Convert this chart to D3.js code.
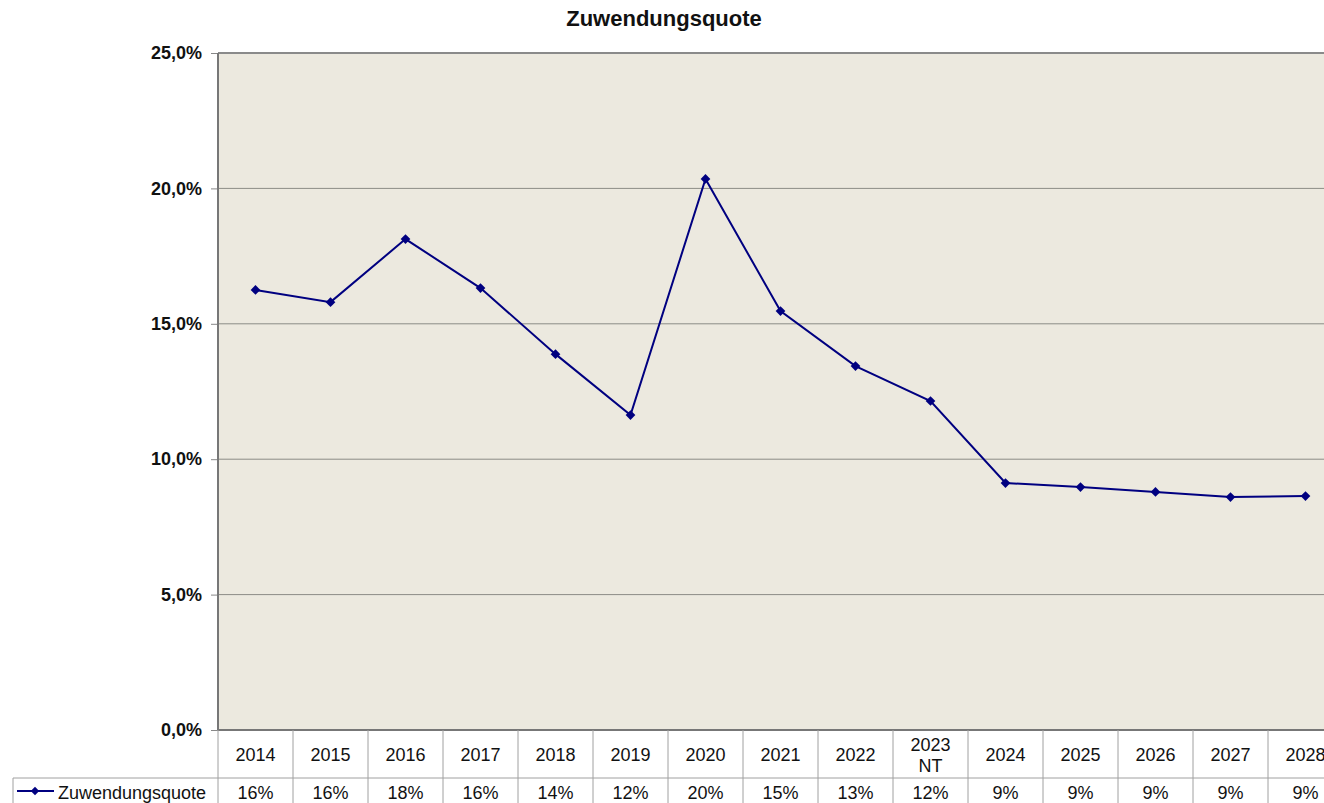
<!DOCTYPE html>
<html>
<head>
<meta charset="utf-8">
<script src="https://cdn.jsdelivr.net/npm/d3@7"></script>
<style>
  body { margin: 0; background: #fff; }
  svg { display: block; font-family: "Liberation Sans", Arial, sans-serif; }
</style>
</head>
<body>
<svg id="chart" width="1324" height="803"></svg>
<script>
// Daten
const jahre = ["2014", "2015", "2016", "2017", "2018", "2019", "2020", "2021", "2022", "2023 NT", "2024", "2025", "2026", "2027", "2028"];
const quote = [0.1625, 0.1580, 0.1813, 0.1632, 0.1388, 0.1163, 0.2035, 0.1547, 0.1344, 0.1215, 0.0912, 0.0897, 0.0879, 0.0860, 0.0864];
const yTicks = [0, 0.05, 0.10, 0.15, 0.20, 0.25];
const serieName = "Zuwendungsquote";

const svg = d3.select("#chart");

const pLinks = 218, pRechts = 1343, pOben = 53, pUnten = 730;
const rowTrenner = 778, tabEnde = 803, legLinks = 13;

const x = d3.scaleBand().domain(jahre).range([pLinks, pRechts]);
const y = d3.scaleLinear().domain([0, 0.25]).range([pUnten, pOben]);

const fmtAchse = d => d3.format(".1f")(d * 100).replace(".", ",") + "%";
const fmtWert = d => Math.round(d * 100) + "%";

// Titel
svg.append("text")
  .attr("x", 664).attr("y", 26)
  .attr("text-anchor", "middle")
  .attr("font-size", 22).attr("font-weight", "bold")
  .attr("fill", "#111")
  .text("Zuwendungsquote");

// Plotfläche
svg.append("rect")
  .attr("x", pLinks).attr("y", pOben)
  .attr("width", pRechts - pLinks).attr("height", pUnten - pOben)
  .attr("fill", "#ECE9DF");

// Gitterlinien
svg.append("g")
  .selectAll("line")
  .data(yTicks.slice(1, -1))
  .join("line")
  .attr("x1", pLinks).attr("x2", pRechts)
  .attr("y1", d => y(d)).attr("y2", d => y(d))
  .attr("stroke", "#8c8c86").attr("stroke-width", 1);

// Y-Achse
const yAxis = svg.append("g")
  .attr("transform", `translate(${pLinks},0)`)
  .call(d3.axisLeft(y).tickValues(yTicks).tickFormat(fmtAchse).tickSize(7).tickPadding(9));
yAxis.select(".domain").remove();
yAxis.selectAll(".tick line").attr("stroke", "#888");
yAxis.selectAll("text")
  .attr("font-size", 18).attr("font-weight", "bold")
  .attr("fill", "#111").attr("font-family", "Liberation Sans, Arial, sans-serif");

// Rahmen
svg.append("line")
  .attr("x1", pLinks).attr("x2", pRechts).attr("y1", pOben).attr("y2", pOben)
  .attr("stroke", "#8a8a8a").attr("stroke-width", 2);
svg.append("line")
  .attr("x1", pLinks).attr("x2", pLinks).attr("y1", pOben).attr("y2", pUnten)
  .attr("stroke", "#777").attr("stroke-width", 2);
svg.append("line")
  .attr("x1", pLinks).attr("x2", pRechts).attr("y1", pUnten).attr("y2", pUnten)
  .attr("stroke", "#777").attr("stroke-width", 2);

// Datentabelle
const tab = svg.append("g");
tab.append("line")
  .attr("x1", legLinks).attr("x2", pRechts).attr("y1", rowTrenner).attr("y2", rowTrenner)
  .attr("stroke", "#a0a0a0");
tab.append("line")
  .attr("x1", legLinks).attr("x2", legLinks).attr("y1", rowTrenner).attr("y2", tabEnde)
  .attr("stroke", "#a0a0a0");
tab.selectAll("line.v")
  .data(jahre)
  .join("line")
  .attr("class", "v")
  .attr("x1", d => x(d) + x.bandwidth()).attr("x2", d => x(d) + x.bandwidth())
  .attr("y1", pUnten).attr("y2", tabEnde)
  .attr("stroke", "#a0a0a0");
tab.append("line")
  .attr("x1", pLinks).attr("x2", pLinks).attr("y1", pUnten).attr("y2", tabEnde)
  .attr("stroke", "#a0a0a0");

tab.selectAll("text.kat")
  .data(jahre)
  .join("text")
  .attr("class", "kat")
  .attr("x", d => x(d) + x.bandwidth() / 2)
  .attr("text-anchor", "middle")
  .attr("font-size", 18).attr("fill", "#111")
  .each(function (d) {
    const teile = d.split(" ");
    const t = d3.select(this);
    teile.forEach((s, i) => {
      t.append("tspan")
        .attr("x", x(d) + x.bandwidth() / 2)
        .attr("y", teile.length > 1 ? 751 + i * 21 : 761)
        .text(s);
    });
  });

tab.selectAll("text.wert")
  .data(quote)
  .join("text")
  .attr("class", "wert")
  .attr("x", (d, i) => x(jahre[i]) + x.bandwidth() / 2)
  .attr("y", 799)
  .attr("text-anchor", "middle")
  .attr("font-size", 18).attr("fill", "#111")
  .text(fmtWert);

// Legende in Tabelle
tab.append("line")
  .attr("x1", 17).attr("x2", 54).attr("y1", 791).attr("y2", 791)
  .attr("stroke", "#000080").attr("stroke-width", 2);
tab.append("path")
  .attr("d", d3.symbol(d3.symbolDiamond2, 45)())
  .attr("transform", "translate(35,791)")
  .attr("fill", "#000080");
tab.append("text")
  .attr("x", 58).attr("y", 799)
  .attr("font-size", 18).attr("fill", "#111")
  .text(serieName);

// Linie
const linie = d3.line()
  .x((d, i) => x(jahre[i]) + x.bandwidth() / 2)
  .y(d => y(d));

svg.append("path")
  .datum(quote)
  .attr("d", linie)
  .attr("fill", "none")
  .attr("stroke", "#000080")
  .attr("stroke-width", 2);

svg.append("g")
  .selectAll("path")
  .data(quote)
  .join("path")
  .attr("d", d3.symbol(d3.symbolDiamond2, 60))
  .attr("transform", (d, i) => `translate(${x(jahre[i]) + x.bandwidth() / 2},${y(d)})`)
  .attr("fill", "#000080");
</script>
</body>
</html>
